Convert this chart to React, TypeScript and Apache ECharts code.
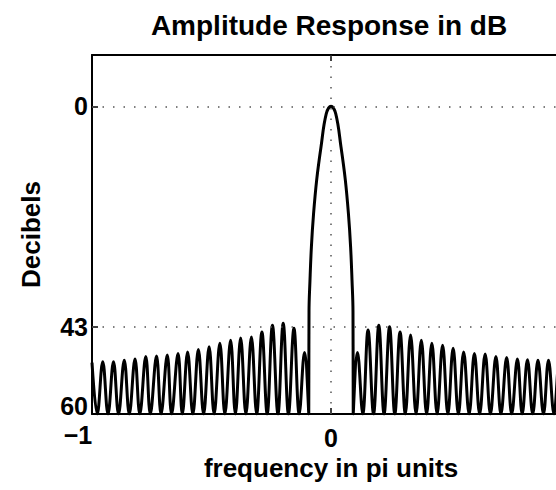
import React, { useEffect, useRef } from 'react';
import * as echarts from 'echarts';

// ---- data ----
const titleText = 'Amplitude Response in dB';
const xName = 'frequency in pi units';
const yName = 'Decibels';

const xTicks = [-1, 0, 1];
const yTickDb = [-60, -43, 0];
const gridDb = [0, -43];
const gridX = [0];

// sidelobe nulls reach the floor of the plot (60 dB)
const NULL_DB = -60;

const leftPeakX = [-1.0, -0.955, -0.91, -0.865, -0.82, -0.775, -0.73, -0.685, -0.64, -0.6, -0.555, -0.51, -0.465, -0.42, -0.378, -0.333, -0.289, -0.245, -0.2, -0.155, -0.111];
const leftPeakDb = [-50, -49.8, -49.8, -49.5, -49.3, -48.8, -48.7, -48.5, -48.2, -47.9, -47.4, -46.9, -46.2, -45.6, -45.2, -45, -44, -42.7, -42.3, -43.3, -48];
const leftNullX = [-0.978, -0.933, -0.889, -0.844, -0.8, -0.756, -0.711, -0.667, -0.622, -0.578, -0.533, -0.489, -0.444, -0.4, -0.356, -0.311, -0.267, -0.222, -0.178, -0.133];

const mainX = [-0.093, -0.092, -0.088, -0.082, -0.073, -0.06, -0.042, -0.02, 0, 0.02, 0.042, 0.06, 0.073, 0.082, 0.088, 0.092, 0.093];
const mainDb = [-60, -40, -34, -27.4, -21, -14.4, -8, -1.5, 0, -1.5, -8, -14.4, -21, -27.4, -34, -40, -60];

const rightPeakX = [0.111, 0.155, 0.2, 0.245, 0.289, 0.333, 0.378, 0.422, 0.467, 0.511, 0.555, 0.6, 0.645, 0.69, 0.735, 0.78, 0.822, 0.866, 0.91, 0.955, 1.0];
const rightPeakDb = [-48, -43.6, -42.7, -43, -44, -44.6, -45.6, -46.2, -46.6, -47.2, -47.9, -48.2, -48.3, -48.8, -49, -49.3, -49.4, -49.5, -49.5, -49.7, -49.8];
const rightNullX = [0.133, 0.178, 0.222, 0.267, 0.311, 0.356, 0.4, 0.444, 0.489, 0.533, 0.578, 0.622, 0.667, 0.711, 0.756, 0.8, 0.844, 0.889, 0.933, 0.978];

function buildCurve(): [number, number][] {
  const pts: [number, number][] = [];
  for (let i = 0; i < leftPeakX.length; i++) {
    pts.push([leftPeakX[i], leftPeakDb[i]]);
    if (i < leftNullX.length) pts.push([leftNullX[i], NULL_DB]);
  }
  for (let i = 0; i < mainX.length; i++) pts.push([mainX[i], mainDb[i]]);
  for (let i = 0; i < rightPeakX.length; i++) {
    if (i > 0) pts.push([rightNullX[i - 1], NULL_DB]);
    pts.push([rightPeakX[i], rightPeakDb[i]]);
  }
  return pts;
}

const FONT = '"Liberation Sans", Arial, Helvetica, sans-serif';

export default function App() {
  const ref = useRef<HTMLDivElement>(null);
  useEffect(() => {
    if (!ref.current) return;
    const chart = echarts.init(ref.current, undefined, { renderer: 'svg' });
    const option: any = {
      animation: false,
      backgroundColor: '#ffffff',
      textStyle: { fontFamily: FONT },
      graphic: [
        {
          type: 'text',
          x: 329,
          y: 25,
          style: {
            text: titleText,
            textAlign: 'center',
            textVerticalAlign: 'middle',
            fontFamily: FONT,
            fontSize: 28,
            fontWeight: 'bold',
            fill: '#000',
          },
        },
      ],
      grid: { left: 92, top: 55, width: 478, height: 359, containLabel: false, outerBoundsMode: 'none' },
      xAxis: [
        {
          type: 'value',
          min: xTicks[0],
          max: xTicks[xTicks.length - 1],
          interval: 1,
          position: 'bottom',
          name: xName,
          nameLocation: 'middle',
          nameGap: 40,
          nameTextStyle: { fontFamily: FONT, fontSize: 26, fontWeight: 'bold', color: '#000' },
          axisLine: { show: true, onZero: false, lineStyle: { color: '#000', width: 2 } },
          axisTick: { show: true, inside: true, length: 6, lineStyle: { color: '#000', width: 1.5 } },
          splitLine: { show: false },
          axisLabel: {
            margin: 8,
            color: '#000',
            fontFamily: FONT,
            fontSize: 25,
            fontWeight: 'bold',
            formatter: (v: number) => {
              if (v === -1) return '{m|\u22121}';
              if (v === 1) return ''; // lies beyond the right edge of the picture
              return '{z|' + String(v) + '}';
            },
            rich: {
              m: { fontFamily: FONT, fontSize: 25, fontWeight: 'bold', color: '#000', padding: [0, 28, 0, 0] },
              z: { fontFamily: FONT, fontSize: 25, fontWeight: 'bold', color: '#000', padding: [3, 0, 0, 0] },
            },
          },
        },
        {
          type: 'value',
          min: xTicks[0],
          max: xTicks[xTicks.length - 1],
          interval: 1,
          position: 'top',
          axisLine: { show: true, onZero: false, lineStyle: { color: '#000', width: 2 } },
          axisTick: { show: true, inside: true, length: 6, lineStyle: { color: '#000', width: 1.5 } },
          axisLabel: { show: false },
          splitLine: { show: false },
        },
      ],
      yAxis: [
        {
          type: 'value',
          min: -60,
          max: 10,
          position: 'left',
          name: yName,
          nameLocation: 'middle',
          nameGap: 48,
          nameTextStyle: { fontFamily: FONT, fontSize: 26, fontWeight: 'bold', color: '#000' },
          axisLine: { show: true, onZero: false, lineStyle: { color: '#000', width: 2 } },
          axisTick: { show: true, inside: true, length: 6, customValues: yTickDb, lineStyle: { color: '#000', width: 1.5 } },
          splitLine: { show: false },
          axisLabel: {
            margin: 4,
            color: '#000',
            fontFamily: FONT,
            fontSize: 25,
            fontWeight: 'bold',
            customValues: yTickDb,
            formatter: (v: number) => (v === -60 ? '{b|60}' : '{n|' + String(Math.abs(v)) + '}'),
            rich: {
              b: { fontFamily: FONT, fontSize: 25, fontWeight: 'bold', color: '#000', padding: [0, 0, 16, 0] },
              n: { fontFamily: FONT, fontSize: 25, fontWeight: 'bold', color: '#000' },
            },
          },
        },
        {
          type: 'value',
          min: -60,
          max: 10,
          position: 'right',
          axisLine: { show: true, onZero: false, lineStyle: { color: '#000', width: 2 } },
          axisTick: { show: false },
          axisLabel: { show: false },
          splitLine: { show: false },
        },
      ],
      series: [
        {
          type: 'line',
          xAxisIndex: 0,
          yAxisIndex: 0,
          data: buildCurve(),
          showSymbol: false,
          symbol: 'none',
          smooth: 0.4,
          clip: true,
          lineStyle: { color: '#000', width: 3 },
          markLine: {
            silent: true,
            symbol: 'none',
            label: { show: false },
            lineStyle: { color: '#555', width: 1.5, type: [1.5, 9] },
            data: [
              ...gridDb.map((v) => ({ yAxis: v })),
              ...gridX.map((v) => ({ xAxis: v })),
            ],
          },
        },
      ],
    };
    chart.setOption(option);
    return () => chart.dispose();
  }, []);
  return (
    <div
      ref={ref}
      style={{ position: 'absolute', left: 0, top: 0, width: 556, height: 490, background: '#fff' }}
    />
  );
}
